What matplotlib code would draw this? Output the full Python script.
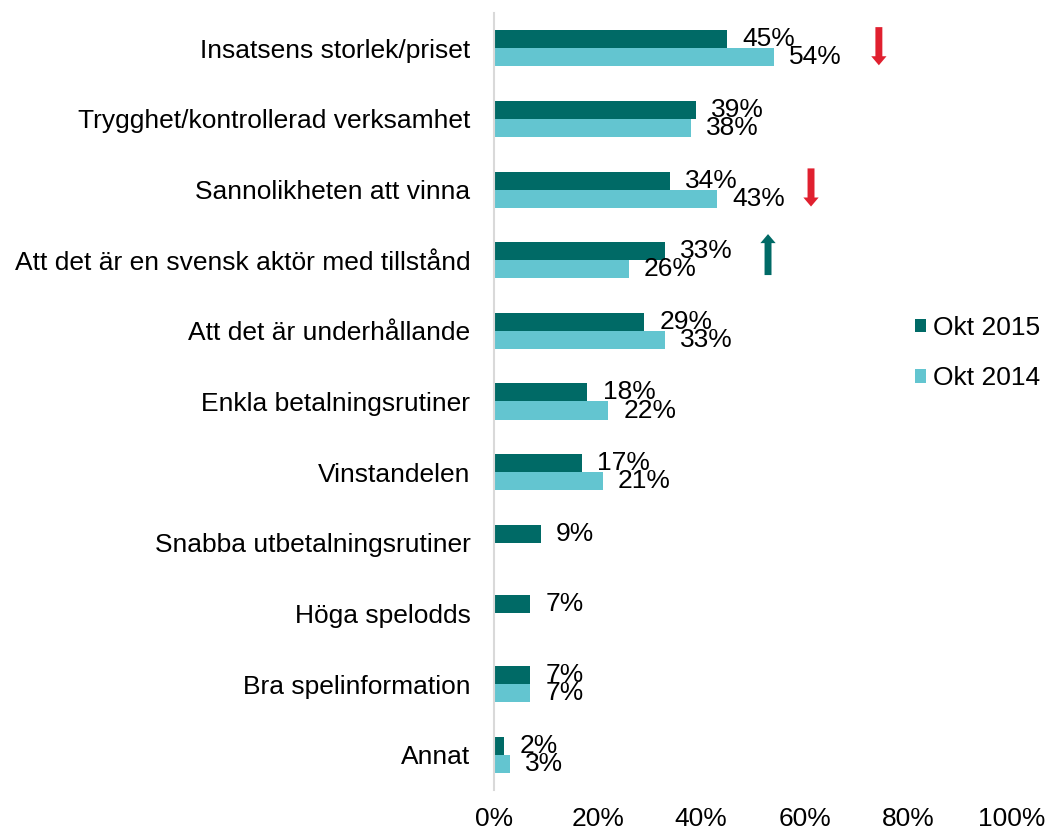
import matplotlib
matplotlib.use("Agg")
import matplotlib.pyplot as plt
from matplotlib.patches import FancyArrowPatch
import numpy as np

plt.rcParams['font.family'] = ['Liberation Sans', 'DejaVu Sans']

categories = ["Insatsens storlek/priset", "Trygghet/kontrollerad verksamhet",
              "Sannolikheten att vinna", "Att det är en svensk aktör med tillstånd",
              "Att det är underhållande", "Enkla betalningsrutiner", "Vinstandelen",
              "Snabba utbetalningsrutiner", "Höga spelodds", "Bra spelinformation", "Annat"]
okt2015 = [45, 39, 34, 33, 29, 18, 17, 9, 7, 7, 2]
okt2014 = [54, 38, 43, 26, 33, 22, 21, None, None, 7, 3]
series_names = ["Okt 2015", "Okt 2014"]
xticks = [0, 20, 40, 60, 80, 100]
# arrows: (row, x position %, direction)
arrows = [(0, 74.3, "down"), (2, 61.2, "down"), (3, 52.9, "up")]

c2015 = "#006A66"
c2014 = "#63C5D0"
red = "#E0202F"
FS = 19

fig = plt.figure(figsize=(10.48, 8.33), dpi=100)
ax = fig.add_axes([494/1048, 1-790/833, (1012-494)/1048, (790-13)/833])

y = np.arange(len(categories))
h = 0.255
for i, v in enumerate(okt2015):
    ax.barh(y[i] - h/2, v, height=h, color=c2015, label=series_names[0] if i == 0 else None)
    ax.annotate(f"{v}%", (v, y[i] - h/2), xytext=(11, 0), textcoords="offset points",
                ha="left", va="center", fontsize=FS)
for i, v in enumerate(okt2014):
    if v is None:
        continue
    ax.barh(y[i] + h/2, v, height=h, color=c2014, label=series_names[1] if i == 0 else None)
    ax.annotate(f"{v}%", (v, y[i] + h/2), xytext=(11, 0), textcoords="offset points",
                ha="left", va="center", fontsize=FS)

for row, xp, d in arrows:
    if d == "down":
        start, end, col = (xp, row - 0.3), (xp, row + 0.24), red
    else:
        start, end, col = (xp, row + 0.21), (xp, row - 0.37), c2015
    ar = FancyArrowPatch(start, end, arrowstyle="simple,head_length=6.5,head_width=11,tail_width=5",
                         mutation_scale=1, color=col, shrinkA=0, shrinkB=0, lw=0)
    ax.add_patch(ar)

ax.set_xlim(0, 100)
ax.set_ylim(len(categories) - 0.5, -0.5)
ax.set_yticks(y)
ax.set_yticklabels(categories, fontsize=FS)
ax.set_xticks(xticks)
ax.set_xticklabels([f"{t}%" for t in xticks], fontsize=FS)
ax.tick_params(axis="y", length=0, pad=17)
ax.tick_params(axis="x", length=0, pad=12)
for s in ["top", "right", "bottom"]:
    ax.spines[s].set_visible(False)
ax.spines["left"].set_color("#D9D9D9")
ax.spines["left"].set_linewidth(1.5)

handles, labels = ax.get_legend_handles_labels()
fig.legend(handles, labels, loc="center left", bbox_to_anchor=(902/1048, 1-353/833),
           frameon=False, fontsize=FS, handlelength=0.42, handleheight=0.42,
           handletextpad=0.25, labelspacing=1.0, borderpad=0)

fig.savefig("out.png", dpi=100)
